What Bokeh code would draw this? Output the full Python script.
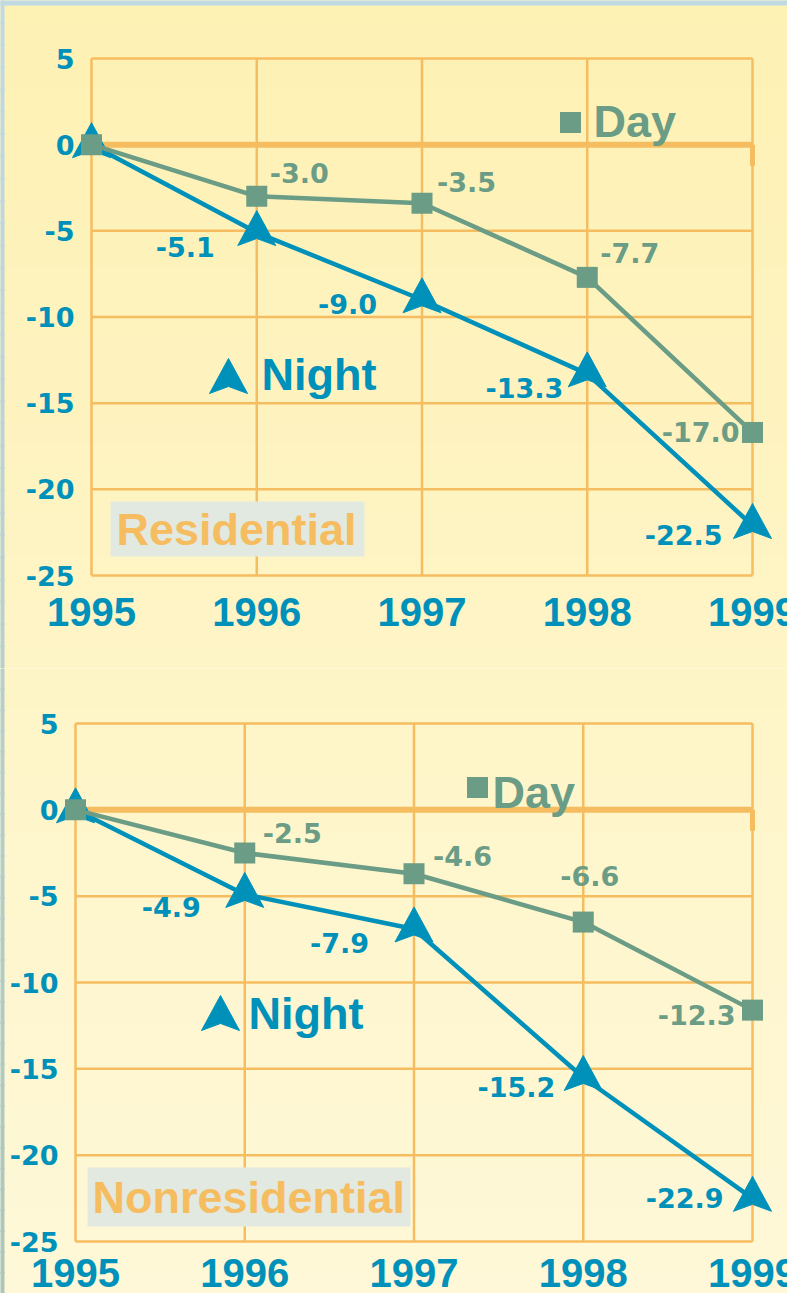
from bokeh.plotting import figure
from bokeh.layouts import column
from bokeh.models import Range1d
from bokeh.embed import file_html
from bokeh.resources import INLINE
from bokeh.core.properties import value

# ---------------- data ----------------
years = [1995, 1996, 1997, 1998, 1999]
x_tick_labels = ["1995", "1996", "1997", "1998", "1999"]
y_ticks = [5, 0, -5, -10, -15, -20, -25]
y_tick_labels = ["5", "0", "-5", "-10", "-15", "-20", "-25"]

res_day = [0.0, -3.0, -3.4, -7.7, -16.7]
res_day_labels = ["", "-3.0", "-3.5", "-7.7", "-17.0"]
res_night = [0.0, -5.1, -9.0, -13.3, -22.1]
res_night_labels = ["", "-5.1", "-9.0", "-13.3", "-22.5"]

nonres_day = [0.0, -2.5, -3.7, -6.5, -11.6]
nonres_day_labels = ["", "-2.5", "-4.6", "-6.6", "-12.3"]
nonres_night = [0.0, -4.9, -6.9, -15.5, -22.5]
nonres_night_labels = ["", "-4.9", "-7.9", "-15.2", "-22.9"]

series_names = ["Day", "Night"]
panel_titles = ["Residential", "Nonresidential"]

# ---------------- style ----------------
BLUE = "#0091BA"
GREEN = "#6A9C86"
ORANGE = "#F6BD60"
BOX = "#E1E9E0"
TOP_BG = (254, 241, 180)
BOT_BG = (254, 248, 216)
EDGE_TOP = (192, 218, 228)
EDGE_BOT = (172, 198, 188)
PAGE_W, PAGE_H = 787, 1293
FIG_W = PAGE_W


def lerp(c0, c1, t):
    c = [round(a + (b - a) * t) for a, b in zip(c0, c1)]
    return "#%02X%02X%02X" % tuple(c)


def panel(cfg, day, day_labels, night, night_labels, title):
    top, height = cfg["top"], cfg["height"]
    x0px, x1px, y5px, y25px = cfg["x0px"], cfg["x1px"], cfg["y5px"], cfg["y25px"]
    pxx = (x1px - x0px) / (years[-1] - years[0])
    pxy = (y25px - y5px) / (y_ticks[0] - y_ticks[-1])

    def X(px):
        return years[0] + (px - x0px) / pxx

    def Y(py):
        return y_ticks[0] - (py - y5px) / pxy

    p = figure(width=FIG_W, height=height,
               x_range=Range1d(X(0), X(PAGE_W)),
               y_range=Range1d(Y(top + height), Y(top)),
               output_backend="svg", toolbar_location=None,
               x_axis_type=None, y_axis_type=None, min_border=0)
    p.outline_line_color = None
    p.background_fill_color = lerp(TOP_BG, BOT_BG, (top + height / 2) / PAGE_H)
    p.border_fill_color = p.background_fill_color

    # background gradient bands + left/top frame strips
    n = 30
    bt, bb, bc, ec = [], [], [], []
    for i in range(n):
        a = top + i * height / n
        b = top + (i + 1) * height / n
        bt.append(Y(a - 1))
        bb.append(Y(b + 1))
        bc.append(lerp(TOP_BG, BOT_BG, ((a + b) / 2) / PAGE_H))
        ec.append(lerp(EDGE_TOP, EDGE_BOT, ((a + b) / 2) / PAGE_H))
    p.quad(left=X(-1), right=X(PAGE_W + 1), top=bt, bottom=bb, fill_color=bc, line_color=None)
    p.quad(left=X(-1), right=X(4), top=bt, bottom=bb, fill_color=ec, line_color=None)
    if top == 0:
        p.quad(left=[X(-1)], right=[X(PAGE_W + 1)], top=[Y(-1)], bottom=[Y(5)],
               fill_color=lerp(EDGE_TOP, EDGE_TOP, 0), line_color=None)

    # grid
    p.segment(x0=years, y0=[y_ticks[-1]] * len(years), x1=years, y1=[y_ticks[0]] * len(years),
              line_color=ORANGE, line_width=2.5)
    p.segment(x0=[years[0]] * len(y_ticks), y0=y_ticks, x1=[years[-1]] * len(y_ticks), y1=y_ticks,
              line_color=ORANGE, line_width=2.5)
    # zero line + end stub
    p.segment(x0=[years[0]], y0=[0], x1=[years[-1]], y1=[0], line_color=ORANGE, line_width=6,
              line_cap="butt")
    p.segment(x0=[years[-1]], y0=[0], x1=[years[-1]], y1=[0 - 21 / pxy], line_color=ORANGE,
              line_width=5, line_cap="butt")

    # night series (drawn below day)
    p.line(years, night, line_color=BLUE, line_width=4.5)

    def arrow(xc, yc):
        return ([xc, xc + 19 / pxx, xc, xc - 19 / pxx],
                [yc + 22 / pxy, yc - 13 / pxy, yc - 6 / pxy, yc - 13 / pxy])

    axs, ays = [], []
    for xv, yv in zip(years, night):
        a, b = arrow(xv, yv)
        axs.append(a)
        ays.append(b)
    p.patches(axs, ays, fill_color=BLUE, line_color=BLUE, line_width=1)

    # day series
    p.line(years, day, line_color=GREEN, line_width=4.5)
    p.scatter(years, day, marker="square", size=21, fill_color=GREEN, line_color=None)

    # data labels
    def put_labels(xs, ys, texts, offs, color):
        groups = {"left": ([], [], []), "right": ([], [], [])}
        for xv, yv, t, off in zip(xs, ys, texts, offs):
            if not t:
                continue
            dx, dy, al = off
            g = groups[al]
            g[0].append(xv + dx / pxx)
            g[1].append(yv - dy / pxy)
            g[2].append(t)
        for al, (gx, gy, gt) in groups.items():
            if gt:
                p.text(gx, gy, text=gt, text_font=value("DejaVu Sans"), text_font_style="bold",
                       text_font_size="27px", text_color=color, text_align=al,
                       text_baseline="middle")

    put_labels(years, day, day_labels, cfg["day_offs"], GREEN)
    put_labels(years, night, night_labels, cfg["night_offs"], BLUE)

    # tick labels
    p.text([years[0] - 17 / pxx] * len(y_ticks), y_ticks, text=y_tick_labels,
           text_font=value("DejaVu Sans"), text_font_style="bold", text_font_size="27px",
           text_color=BLUE, text_align="right", text_baseline="middle")
    p.text(years, [y_ticks[-1] - cfg["xlab_dy"] / pxy] * len(years), text=x_tick_labels,
           text_font=value("Liberation Sans"), text_font_style="bold", text_font_size="40px",
           text_color=BLUE, text_align="center", text_baseline="middle")

    # legend entries
    sx, sy = cfg["day_sq"]
    p.scatter([X(sx)], [Y(sy)], marker="square", size=21, fill_color=GREEN, line_color=None)
    tx, ty = cfg["day_txt"]
    p.text([X(tx)], [Y(ty)], text=[series_names[0]], text_font=value("Liberation Sans"),
           text_font_style="bold", text_font_size="45px", text_color=GREEN,
           text_align="left", text_baseline="middle")
    ax_, ay_ = cfg["night_tri"]
    a, b = arrow(X(ax_), Y(ay_))
    p.patch(a, b, fill_color=BLUE, line_color=BLUE, line_width=1)
    tx, ty = cfg["night_txt"]
    p.text([X(tx)], [Y(ty)], text=[series_names[1]], text_font=value("Liberation Sans"),
           text_font_style="bold", text_font_size="45px", text_color=BLUE,
           text_align="left", text_baseline="middle")

    # panel title box
    l, t, r, bt_ = cfg["box"]
    p.quad(left=[X(l)], right=[X(r)], top=[Y(t)], bottom=[Y(bt_)], fill_color=BOX, line_color=None)
    tx, ty = cfg["title_txt"]
    p.text([X(tx)], [Y(ty)], text=[title], text_font=value("Liberation Sans"),
           text_font_style="bold", text_font_size="45px", text_color=ORANGE,
           text_align="left", text_baseline="middle")
    return p


cfg_res = dict(top=0, height=668, x0px=91, x1px=752, y5px=58, y25px=575, xlab_dy=36,
               day_offs=[None, (13, -23, "left"), (15, -21, "left"), (13, -24, "left"),
                         (-13, 0, "right")],
               night_offs=[None, (-42, 14, "right"), (-45, 4, "right"), (-24, 14, "right"),
                           (-30, 9, "right")],
               day_sq=(570, 122), day_txt=(593, 121),
               night_tri=(228, 380), night_txt=(261, 374),
               box=(110, 501, 364, 556), title_txt=(116, 529))

cfg_non = dict(top=668, height=625, x0px=75, x1px=752, y5px=723, y25px=1241, xlab_dy=31,
               day_offs=[None, (18, -20, "left"), (19, -18, "left"), (-23, -46, "left"),
                         (-17, 5, "right")],
               night_offs=[None, (-44, 13, "right"), (-45, 14, "right"), (-28, 10, "right"),
                           (-29, 0, "right")],
               day_sq=(477, 787), day_txt=(492, 792),
               night_tri=(220, 1017), night_txt=(248, 1013),
               box=(87, 1167, 410, 1226), title_txt=(92, 1197))

p1 = panel(cfg_res, res_day, res_day_labels, res_night, res_night_labels, panel_titles[0])
p2 = panel(cfg_non, nonres_day, nonres_day_labels, nonres_night, nonres_night_labels,
           panel_titles[1])

layout = column(p1, p2, spacing=0)
open("out.html", "w").write(file_html(layout, INLINE))
